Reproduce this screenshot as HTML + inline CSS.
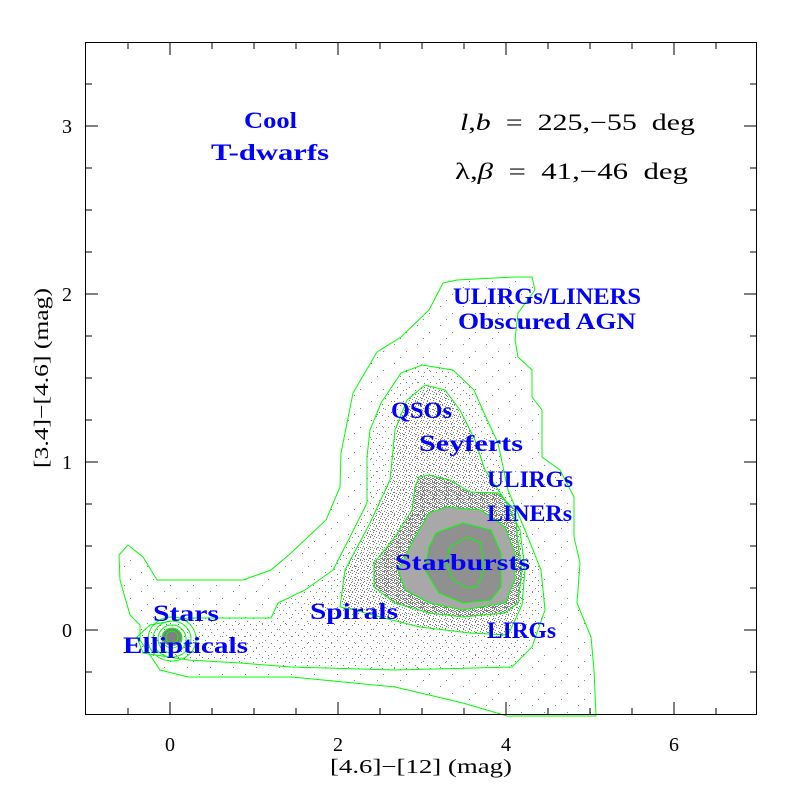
<!DOCTYPE html>
<html><head><meta charset="utf-8"><style>
html,body{margin:0;padding:0;background:#fff;}
svg{display:block;}
.bl{font-family:"Liberation Serif",serif;font-weight:bold;font-size:23px;fill:#0000ff;}
.tk{font-family:"Liberation Serif",serif;font-size:20px;fill:#000;}
</style></head><body>
<svg width="800" height="800" viewBox="0 0 800 800" xmlns="http://www.w3.org/2000/svg">
<defs>
<pattern id="p1" width="23" height="19" patternUnits="userSpaceOnUse">
<rect x="3" y="2" width="1" height="1" fill="#808080"/><rect x="15" y="9" width="1" height="1" fill="#808080"/><rect x="9" y="15" width="1" height="1" fill="#808080"/>
</pattern>
<pattern id="p2" width="12" height="11" patternUnits="userSpaceOnUse">
<rect x="1" y="2" width="1" height="1" fill="#808080"/><rect x="7" y="5" width="1" height="1" fill="#808080"/><rect x="4" y="9" width="1" height="1" fill="#808080"/><rect x="10" y="8" width="1" height="1" fill="#808080"/>
</pattern>
<pattern id="p3" width="6" height="6" patternUnits="userSpaceOnUse">
<rect x="0" y="1" width="1" height="1" fill="#808080"/><rect x="3" y="0" width="1" height="1" fill="#808080"/><rect x="4" y="3" width="1" height="1" fill="#808080"/><rect x="1" y="4" width="1" height="1" fill="#808080"/><rect x="2" y="2" width="1" height="1" fill="#808080"/>
</pattern>
<pattern id="p4" width="4" height="4" patternUnits="userSpaceOnUse">
<rect x="0" y="0" width="1" height="1" fill="#808080"/><rect x="2" y="1" width="1" height="1" fill="#808080"/><rect x="1" y="2" width="1" height="1" fill="#808080"/><rect x="3" y="3" width="1" height="1" fill="#808080"/><rect x="2" y="3" width="1" height="1" fill="#808080"/><rect x="0" y="2" width="1" height="1" fill="#808080"/>
</pattern>
</defs>

<polygon fill="url(#p1)" points="119,555 128,545 143,557 157,580 188,580 243,580 271,570 291,553 326,520 340,487 341,453 353,393 377,352 401,337 429,310 443,283 457,280 515,277 532,277 535,290 518,313 515,340 518,357 532,370 532,397 542,410 542,457 560,470 574,497 574,537 580,563 577,603 591,637 594,670 595,714 507,714 463,703 395,687 292,677 188,677 160,670 140,640 140,625 130,615 120,580"/>
<polygon fill="url(#p2)" points="137,637 150,625 188,618 271,618 278,603 305,590 333,570 350,537 367,503 367,457 370,430 381,403 401,373 422,365 453,370 474,390 484,413 498,443 508,490 525,530 541,570 545,610 532,647 512,667 395,670 291,667 240,663 188,660 143,653"/>
<polygon fill="url(#p3)" points="340,607 345,570 370,523 390,480 395,430 407,400 425,385 445,390 460,410 475,440 485,470 505,500 520,530 525,570 522,605 508,635 470,633 420,627 380,617 355,610"/>
<polygon fill="url(#p4)" points="419,477 429,475 450,480 470,492 498,493 515,510 518,543 522,570 518,603 505,613 463,617 429,613 395,603 374,587 374,563 395,537 412,510 415,487"/>
<polygon fill="#a8a8a8" points="429,513 446,507 481,510 505,527 515,553 515,580 505,603 463,610 429,603 405,590 398,570 415,537"/>
<polygon fill="#909090" points="436,533 463,523 491,530 501,553 501,587 491,600 463,603 439,593 425,570 429,547"/>
<ellipse cx="172" cy="637" rx="10" ry="9" fill="#808080"/>

<g fill="none" stroke="#00ff00" stroke-width="1">
<polygon points="119,555 128,545 143,557 157,580 188,580 243,580 271,570 291,553 326,520 340,487 341,453 353,393 377,352 401,337 429,310 443,283 457,280 515,277 532,277 535,290 518,313 515,340 518,357 532,370 532,397 542,410 542,457 560,470 574,497 574,537 580,563 577,603 591,637 594,670 596,716 507,716 463,703 395,687 292,677 188,677 160,670 140,640 140,625 130,615 120,580"/>
<polygon points="137,637 150,625 188,618 271,618 278,603 305,590 333,570 350,537 367,503 367,457 370,430 381,403 401,373 422,365 453,370 474,390 484,413 498,443 508,490 525,530 541,570 545,610 532,647 512,667 395,670 291,667 240,663 188,660 143,653"/>
<polygon points="340,607 345,570 370,523 390,480 395,430 407,400 425,385 445,390 460,410 475,440 485,470 505,500 520,530 525,570 522,605 508,635 470,633 420,627 380,617 355,610"/>
<polygon points="419,477 429,475 450,480 470,492 498,493 515,510 518,543 522,570 518,603 505,613 463,617 429,613 395,603 374,587 374,563 395,537 412,510 415,487"/>
<polygon points="429,513 446,507 481,510 505,527 515,553 515,580 505,603 463,610 429,603 405,590 398,570 415,537"/>
<polygon points="436,533 463,523 491,530 501,553 501,587 491,600 463,603 439,593 425,570 429,547"/>
<polygon points="450,547 467,537 481,543 484,570 477,587 467,588 453,580 446,563"/>
<ellipse cx="172" cy="639" rx="24" ry="22"/>
<ellipse cx="172" cy="639" rx="19" ry="18"/>
<ellipse cx="172" cy="639" rx="14" ry="14"/>
<ellipse cx="172" cy="638" rx="10" ry="10"/>
<ellipse cx="172" cy="637" rx="6" ry="6"/>
</g>

<rect x="85.5" y="42.5" width="671" height="672" fill="none" stroke="#000" stroke-width="1"/>
<g stroke="#000" stroke-width="1">
<path d="M128,714v-6M212,714v-6M254,714v-6M296,714v-6M380,714v-6M422,714v-6M464,714v-6M548,714v-6M590,714v-6M632,714v-6M716,714v-6
M170,714v-12M338,714v-12M506,714v-12M674,714v-12
M128,43v6M212,43v6M254,43v6M296,43v6M380,43v6M422,43v6M464,43v6M548,43v6M590,43v6M632,43v6M716,43v6
M170,43v12M338,43v12M506,43v12M674,43v12"/>
<path d="M86,672h6M86,588h6M86,546h6M86,504h6M86,420h6M86,378h6M86,336h6M86,252h6M86,210h6M86,168h6M86,84h6
M86,630h12M86,462h12M86,294h12M86,126h12
M756,672h-6M756,588h-6M756,546h-6M756,504h-6M756,420h-6M756,378h-6M756,336h-6M756,252h-6M756,210h-6M756,168h-6M756,84h-6
M756,630h-12M756,462h-12M756,294h-12M756,126h-12"/>
</g>
<g class="tk" text-anchor="middle">
<text x="170" y="751">0</text><text x="338" y="751">2</text><text x="506" y="751">4</text><text x="674" y="751">6</text>
<text x="67" y="637">0</text><text x="67" y="469">1</text><text x="67" y="301">2</text><text x="67" y="133">3</text>
</g>
<g class="tk">
<text x="330" y="773" textLength="182" lengthAdjust="spacingAndGlyphs">[4.6]−[12] (mag)</text>
<text transform="translate(48,468) rotate(-90)" textLength="180" lengthAdjust="spacingAndGlyphs">[3.4]−[4.6] (mag)</text>
</g>
<g class="tk" style="font-size:23px">
<text x="460" y="130" textLength="235" lengthAdjust="spacingAndGlyphs"><tspan font-style="italic">l</tspan>,<tspan font-style="italic">b</tspan>&#160;&#160;=&#160;&#160;225,−55&#160;&#160;deg</text>
<text x="455" y="179" textLength="233" lengthAdjust="spacingAndGlyphs">λ,<tspan font-style="italic">β</tspan>&#160;&#160;=&#160;&#160;41,−46&#160;&#160;deg</text>
</g>
<g class="bl">
<text x="244" y="128" textLength="53" lengthAdjust="spacingAndGlyphs">Cool</text>
<text x="211" y="160" textLength="118" lengthAdjust="spacingAndGlyphs">T-dwarfs</text>
<text x="453" y="304" textLength="188" lengthAdjust="spacingAndGlyphs">ULIRGs/LINERS</text>
<text x="458" y="329" textLength="178" lengthAdjust="spacingAndGlyphs">Obscured AGN</text>
<text x="391" y="418" textLength="61" lengthAdjust="spacingAndGlyphs">QSOs</text>
<text x="419" y="451" textLength="104" lengthAdjust="spacingAndGlyphs">Seyferts</text>
<text x="487" y="487" textLength="86" lengthAdjust="spacingAndGlyphs">ULIRGs</text>
<text x="487" y="521" textLength="85" lengthAdjust="spacingAndGlyphs">LINERs</text>
<text x="395" y="570" textLength="135" lengthAdjust="spacingAndGlyphs">Starbursts</text>
<text x="310" y="619" textLength="88" lengthAdjust="spacingAndGlyphs">Spirals</text>
<text x="487" y="638" textLength="69" lengthAdjust="spacingAndGlyphs">LIRGs</text>
<text x="153" y="621" textLength="66" lengthAdjust="spacingAndGlyphs">Stars</text>
<text x="123" y="653" textLength="125" lengthAdjust="spacingAndGlyphs">Ellipticals</text>
</g>
</svg>
</body></html>
